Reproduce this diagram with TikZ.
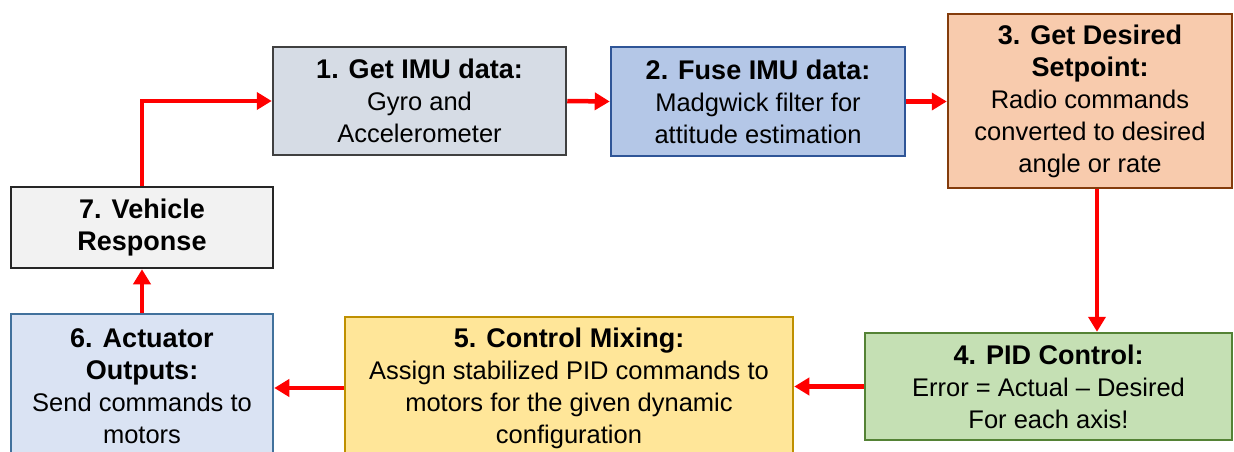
\documentclass[tikz,border=0pt]{standalone}
\usepackage{fontspec}
\setmainfont{Liberation Sans}
\usetikzlibrary{arrows.meta}
\definecolor{f1}{HTML}{D6DCE5}\definecolor{b1}{HTML}{404040}
\definecolor{f2}{HTML}{B4C7E7}\definecolor{b2}{HTML}{2F5597}
\definecolor{f3}{HTML}{F8CBAD}\definecolor{b3}{HTML}{843C0C}
\definecolor{f4}{HTML}{C5E0B4}\definecolor{b4}{HTML}{548235}
\definecolor{f5}{HTML}{FFE699}\definecolor{b5}{HTML}{BF9000}
\definecolor{f6}{HTML}{DAE3F3}\definecolor{b6}{HTML}{41719C}
\definecolor{f7}{HTML}{F2F2F2}\definecolor{b7}{HTML}{262626}
\newcommand{\ttl}[1]{{\fontsize{27}{32}\selectfont\bfseries #1}}
\tikzset{
  stepbox/.style={draw, line width=2.5pt, inner sep=0pt, align=center,
    font=\fontsize{25.5}{32}\selectfont},
  flow/.style={draw=red, line width=4.5pt, -{Triangle[length=15pt,width=17pt]}},
}
\begin{document}
\begin{tikzpicture}[x=1pt,y=1pt]
\useasboundingbox (0,0) rectangle (1234,-452);
\clip (0,0) rectangle (1234,-452);
\node[stepbox, fill=f1, draw=b1, minimum width=293pt, minimum height=108pt] (n1) at (419.5,-101)
  {\ttl{1. Get IMU data:}\\Gyro and\\Accelerometer};
\node[stepbox, fill=f2, draw=b2, minimum width=294pt, minimum height=109pt] (n2) at (758,-101.5)
  {\ttl{2. Fuse IMU data:}\\Madgwick filter for\\attitude estimation};
\node[stepbox, fill=f3, draw=b3, minimum width=284pt, minimum height=174pt] (n3) at (1090,-101)
  {\ttl{3. Get Desired}\\\ttl{Setpoint:}\\Radio commands\\converted to desired\\angle or rate};
\node[stepbox, fill=f4, draw=b4, minimum width=367pt, minimum height=107pt] (n4) at (1048.5,-386.5)
  {\ttl{4. PID Control:}\\Error = Actual – Desired\\For each axis!};
\node[stepbox, fill=f5, draw=b5, minimum width=448pt, minimum height=142pt] (n5) at (569,-388)
  {\ttl{5. Control Mixing:}\\Assign stabilized PID commands to\\motors for the given dynamic\\configuration};
\node[stepbox, fill=f6, draw=b6, minimum width=262pt, minimum height=145pt] (n6) at (142,-386.5)
  {\ttl{6. Actuator}\\\ttl{Outputs:}\\Send commands to\\motors};
\node[stepbox, fill=f7, draw=b7, minimum width=262pt, minimum height=81pt] (n7) at (142,-227.5)
  {\ttl{7. Vehicle}\\\ttl{Response}};
\draw[flow] (n7.north) |- (n1.west);
\draw[flow] (n1.east) -- (n2.west);
\draw[flow] (n2.east) -- (n2.east -| n3.west);
\draw[flow] ([xshift=7pt]n3.south) -- ([xshift=7pt]n3.south |- n4.north);
\draw[flow] (n4.west) -- (n4.west -| n5.east);
\draw[flow] (n5.west) -- (n5.west -| n6.east);
\draw[flow] (n6.north) -- (n7.south);
\end{tikzpicture}
\end{document}
